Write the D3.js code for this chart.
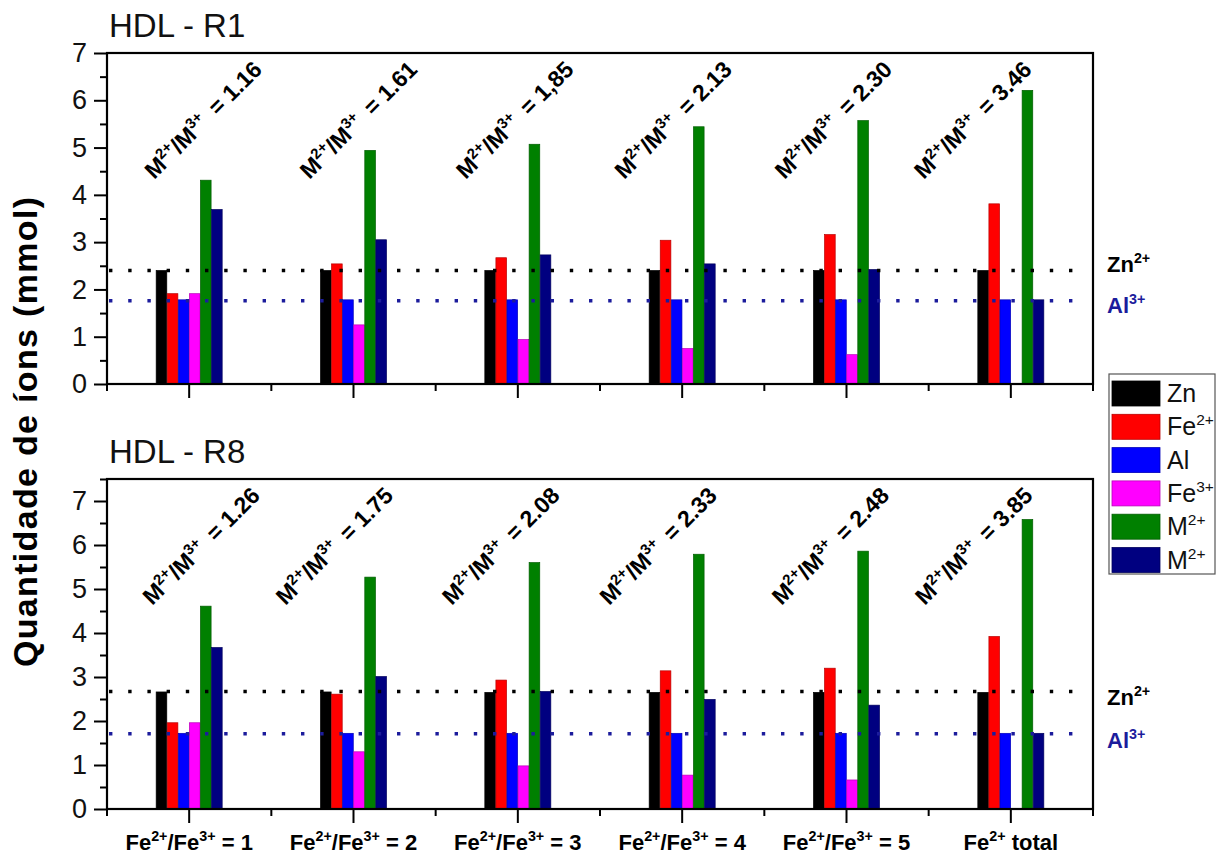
<!DOCTYPE html>
<html>
<head>
<meta charset="utf-8">
<script src="https://cdn.jsdelivr.net/npm/d3@7/dist/d3.min.js"></script>
<style>
  html, body { margin: 0; padding: 0; background: #fff; }
  svg { display: block; font-family: "Liberation Sans", Arial, Helvetica, sans-serif; }
  text { white-space: pre; }
</style>
</head>
<body>
<svg id="chart" width="1220" height="856"></svg>
<script>
// ---- data -------------------------------------------------------------
const categories = ["Fe^{2+}/Fe^{3+} = 1", "Fe^{2+}/Fe^{3+} = 2", "Fe^{2+}/Fe^{3+} = 3",
                    "Fe^{2+}/Fe^{3+} = 4", "Fe^{2+}/Fe^{3+} = 5", "Fe^{2+} total"];
const seriesKeys   = ["zn", "fe2", "al", "fe3", "m2", "m3"];
const seriesLabels = ["Zn", "Fe^{2+}", "Al", "Fe^{3+}", "M^{2+}", "M^{2+}"];
const seriesColors = ["#000000", "#ff0000", "#0000ff", "#ff00ff", "#008000", "#000080"];

// HDL - R1 (mmol)
const r1Zn  = [2.40, 2.40, 2.40, 2.40, 2.40, 2.40];
const r1Fe2 = [1.91, 2.54, 2.67, 3.04, 3.16, 3.81];
const r1Al  = [1.78, 1.78, 1.78, 1.78, 1.78, 1.78];
const r1Fe3 = [1.91, 1.25, 0.94, 0.75, 0.62, 0];
const r1M2  = [4.31, 4.94, 5.07, 5.44, 5.57, 6.21];
const r1M3  = [3.69, 3.05, 2.73, 2.54, 2.42, 1.78];
const r1Ratio = ["1.16", "1.61", "1,85", "2.13", "2.30", "3.46"];
const r1ZnRef = 2.40, r1AlRef = 1.76;

// HDL - R8 (mmol)
const r8Zn  = [2.66, 2.66, 2.65, 2.65, 2.65, 2.65];
const r8Fe2 = [1.96, 2.61, 2.93, 3.14, 3.20, 3.92];
const r8Al  = [1.72, 1.72, 1.72, 1.72, 1.72, 1.72];
const r8Fe3 = [1.96, 1.30, 0.98, 0.77, 0.66, 0];
const r8M2  = [4.61, 5.27, 5.60, 5.79, 5.86, 6.58];
const r8M3  = [3.67, 3.01, 2.67, 2.49, 2.36, 1.72];
const r8Ratio = ["1.26", "1.75", "2.08", "2.33", "2.48", "3.85"];
const r8ZnRef = 2.67, r8AlRef = 1.71;

const yTicksR1 = [0, 1, 2, 3, 4, 5, 6, 7];
const yTicksR8 = [0, 1, 2, 3, 4, 5, 6, 7];

// ---- layout -----------------------------------------------------------
const plotLeft = 107, plotRight = 1093;
const panels = [
  { title: "HDL - R1", titleY: 37, top: 53, bottom: 384, yMax: 7, ticks: yTicksR1,
    values: [r1Zn, r1Fe2, r1Al, r1Fe3, r1M2, r1M3], ratio: r1Ratio,
    znRef: r1ZnRef, alRef: r1AlRef, znLabelY: 272, alLabelY: 313,
    noteDx: [-35, -44, -52, -58, -62, -87], noteY: 180, showX: false },
  { title: "HDL - R8", titleY: 463, top: 479, bottom: 809, yMax: 7.5, ticks: yTicksR8,
    values: [r8Zn, r8Fe2, r8Al, r8Fe3, r8M2, r8M3], ratio: r8Ratio,
    znRef: r8ZnRef, alRef: r8AlRef, znLabelY: 705, alLabelY: 748,
    noteDx: [-37, -68, -66, -73, -65, -86], noteY: 606, showX: true }
];

const svg = d3.select("#chart");

// writes "A^{b}C" as text with raised, smaller superscript runs
function richText(textSel, str, size, supScale = 0.65) {
  const parts = str.split(/(\^\{[^}]*\})/).filter(s => s.length);
  const rise = size * 0.40;
  let raised = false;
  parts.forEach(p => {
    const m = p.match(/^\^\{([^}]*)\}$/);
    if (m) {
      textSel.append("tspan")
        .attr("font-size", size * supScale)
        .attr("dy", raised ? 0 : -rise)
        .text(m[1]);
      raised = true;
    } else {
      textSel.append("tspan")
        .attr("font-size", size)
        .attr("dy", raised ? rise : 0)
        .text(p);
      raised = false;
    }
  });
  return textSel;
}

const x = d3.scaleBand().domain(categories).range([plotLeft, plotRight]).paddingInner(0).paddingOuter(0);
const groupWidth = 66;
const x1 = d3.scaleBand().domain(seriesKeys).range([0, groupWidth]).paddingInner(0.04);

panels.forEach(p => {
  const y = d3.scaleLinear().domain([0, p.yMax]).range([p.bottom, p.top]);
  const g = svg.append("g");

  // panel title
  g.append("text").attr("x", 109).attr("y", p.titleY)
    .attr("font-size", 33).attr("fill", "#111").text(p.title);

  // bars
  const rows = categories.map((c, i) => ({ cat: c, i, vals: seriesKeys.map((k, j) => ({ key: k, j, v: p.values[j][i] })) }));
  const grp = g.selectAll("g.cat").data(rows).join("g")
    .attr("transform", d => `translate(${x(d.cat) + x.bandwidth() / 2 - groupWidth / 2},0)`);
  grp.selectAll("rect").data(d => d.vals.filter(s => s.v > 0)).join("rect")
    .attr("x", s => x1(s.key))
    .attr("width", x1.bandwidth())
    .attr("y", s => y(s.v))
    .attr("height", s => y(0) - y(s.v))
    .attr("fill", s => seriesColors[s.j])
    .attr("stroke", s => d3.color(seriesColors[s.j]).darker(0.9))
    .attr("stroke-width", 0.7);

  // dotted reference levels
  const refs = [{ v: p.znRef, c: "#000000" }, { v: p.alRef, c: "#1c1c9c" }];
  g.selectAll("line.ref").data(refs).join("line")
    .attr("x1", 109).attr("x2", 1086)
    .attr("y1", d => y(d.v)).attr("y2", d => y(d.v))
    .attr("stroke", d => d.c).attr("stroke-width", 3.4)
    .attr("stroke-dasharray", "3.4,15.8");

  richText(g.append("text").attr("x", 1107).attr("y", p.znLabelY)
    .attr("font-weight", "bold").attr("fill", "#000"), "Zn^{2+}", 22);
  richText(g.append("text").attr("x", 1107).attr("y", p.alLabelY)
    .attr("font-weight", "bold").attr("fill", "#1c1c9c"), "Al^{3+}", 22);

  // M2+/M3+ ratio notes
  rows.forEach(d => {
    const cx = x(d.cat) + x.bandwidth() / 2;
    const t = g.append("text")
      .attr("transform", `translate(${cx + p.noteDx[d.i]},${p.noteY}) rotate(-45)`)
      .attr("font-weight", "bold").attr("fill", "#000");
    richText(t, `M^{2+}/M^{3+}\u2009 = ${p.ratio[d.i]}`, 23);
  });

  // y axis: major + minor ticks
  const yAxis = d3.axisLeft(y).tickValues(p.ticks).tickSize(13).tickPadding(7).tickSizeOuter(0)
    .tickFormat(d3.format("d"));
  const minorY = d3.range(0.5, p.yMax + 0.01, 1);
  const ya = g.append("g").attr("transform", `translate(${plotLeft},0)`).call(yAxis);
  ya.select(".domain").remove();
  ya.selectAll("line").attr("stroke-width", 2);
  ya.selectAll("text").attr("font-size", 27).attr("font-family", "Liberation Sans, Arial, sans-serif").attr("fill", "#111");
  const yMinor = g.append("g").attr("transform", `translate(${plotLeft},0)`)
    .call(d3.axisLeft(y).tickValues(minorY).tickSize(7).tickFormat(""));
  yMinor.select(".domain").remove();
  yMinor.selectAll("line").attr("stroke-width", 2);

  // x axis: major ticks at category centres, minor at band edges
  const xa = g.append("g").attr("transform", `translate(0,${p.bottom})`)
    .call(d3.axisBottom(x).tickSize(14).tickSizeOuter(0).tickFormat(""));
  xa.select(".domain").remove();
  xa.selectAll("line").attr("stroke-width", 2);
  const edges = categories.map(c => x(c)).concat([x.range()[1]]);
  g.selectAll("line.xminor").data(edges).join("line")
    .attr("x1", d => d).attr("x2", d => d)
    .attr("y1", p.bottom).attr("y2", p.bottom + 7)
    .attr("stroke", "#000").attr("stroke-width", 2);

  if (p.showX) {
    categories.forEach(c => {
      const t = g.append("text")
        .attr("x", x(c) + x.bandwidth() / 2).attr("y", 850)
        .attr("text-anchor", "middle").attr("font-weight", "bold").attr("fill", "#000");
      richText(t, c, 22);
    });
  }

  // frame
  g.append("rect").attr("x", plotLeft).attr("y", p.top)
    .attr("width", plotRight - plotLeft).attr("height", p.bottom - p.top)
    .attr("fill", "none").attr("stroke", "#000").attr("stroke-width", 2.2);
});

// y axis title shared by both panels
svg.append("text")
  .attr("transform", "translate(37,432) rotate(-90)")
  .attr("text-anchor", "middle").attr("font-weight", "bold").attr("font-size", 34)
  .attr("textLength", 470).attr("lengthAdjust", "spacing")
  .attr("fill", "#000")
  .text("Quantidade de íons (mmol)");

// legend
const lg = svg.append("g");
lg.append("rect").attr("x", 1109).attr("y", 374).attr("width", 106).attr("height", 200)
  .attr("fill", "#fff").attr("stroke", "#555").attr("stroke-width", 1.2);
seriesLabels.forEach((lab, i) => {
  const yy = 381 + i * 33.3;
  lg.append("rect").attr("x", 1112).attr("y", yy).attr("width", 48).attr("height", 25)
    .attr("fill", seriesColors[i]).attr("stroke", d3.color(seriesColors[i]).darker(0.9)).attr("stroke-width", 0.8);
  richText(lg.append("text").attr("x", 1167).attr("y", yy + 21).attr("fill", "#111"), lab, 25, 0.62);
});
</script>
</body>
</html>
